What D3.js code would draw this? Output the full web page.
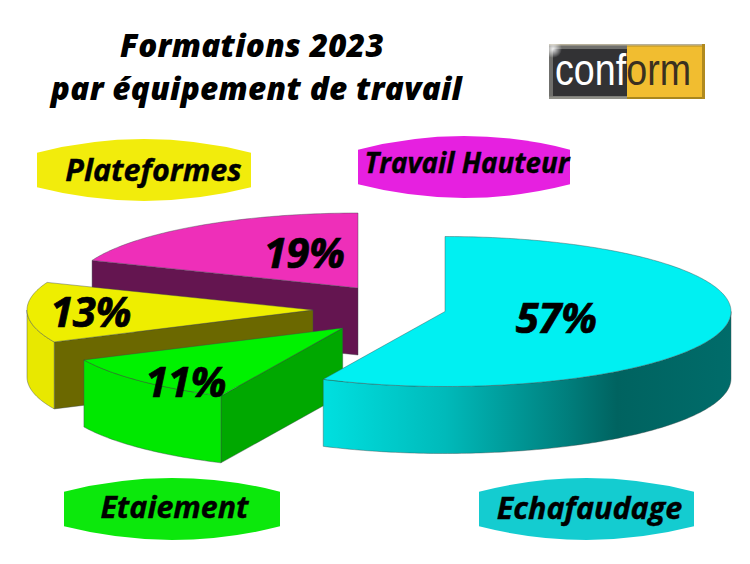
<!DOCTYPE html>
<html><head><meta charset="utf-8">
<script src="https://cdn.jsdelivr.net/npm/d3@7"></script>
<style>html,body{margin:0;padding:0;background:#fff}svg{display:block}
text{font-family:"Open Sans",sans-serif;font-weight:700;font-style:italic;fill:#000}</style>
</head><body><svg id="c" width="750" height="564"></svg>
<script>
const categories = ["Echafaudage","Etaiement","Plateformes","Travail Hauteur"];
const values = [57,11,13,19];
const percentLabels = ["57%","11%","13%","19%"];
const titleLines = ["Formations 2023","par équipement de travail"];

const topColors  = ["#00f0f2","#00f200","#eeee00","#ee2fb9"];
const wallColors = ["url(#cy)","#00e800","#e8e800","#641550"];
const faceColors = ["#00c8c8","#00a800","#6b6800","#641550"];
const badgeColors= ["#14ccd0","#0ce80c","#f2ec0c","#e620e0"];

const RX=286, RY=75, DEPTH=67;
const centers=[[445,311.5],[342.7,328],[313,310],[358,288]];
const labelPos=[[556,333],[185.5,397],[90.5,327],[304,268]];
const badgeBox=[[479,478,694,540],[64,478,280,540],[37,139,251,201],[358,136,570,198]];
const badgeText=[[589.5,519],[174.5,518],[153.5,181],[467,173]];
const badgeFont=[30.5,30.4,30.5,27.7];

const svg=d3.select("#c");
const defs=svg.append("defs");
const g=defs.append("linearGradient").attr("id","cy").attr("gradientUnits","userSpaceOnUse")
  .attr("x1",322).attr("x2",732).attr("y1",0).attr("y2",0);
[[0,"#00e0e0"],[0.3,"#00baba"],[0.6,"#007e7c"],[0.72,"#006360"],[1,"#006c6a"]]
  .forEach(s=>g.append("stop").attr("offset",s[0]).attr("stop-color",s[1]));

const arcs=d3.pie().sort(null).startAngle(0).endAngle(2*Math.PI)(values);
const line=d3.line();
const pt=(c,a,dy=0)=>[c[0]+RX*Math.sin(a),c[1]-RY*Math.cos(a)+dy];
const sample=(a0,a1)=>{const n=Math.max(2,Math.ceil((a1-a0)*60));return d3.range(n+1).map(i=>a0+(a1-a0)*i/n);};

const drawOrder=[3,2,1,0];
const stroke={stroke:"#3c4a4a","stroke-width":0.6,"stroke-opacity":0.7};
function style(s){Object.entries(stroke).forEach(([k,v])=>s.attr(k,v));return s;}
drawOrder.forEach(i=>{
  const d=arcs[i],c=centers[i];
  if(i!==0){
    const p=pt(c,d.startAngle);
    style(svg.append("path").attr("fill",faceColors[i])
      .attr("d",line([p,c,[c[0],c[1]+DEPTH],[p[0],p[1]+DEPTH]])+"Z"));
  }
  const a0=Math.max(d.startAngle,Math.PI/2),a1=Math.min(d.endAngle,1.5*Math.PI);
  if(a1>a0){
    const as=sample(a0,a1);
    const pts=as.map(a=>pt(c,a)).concat(as.slice().reverse().map(a=>pt(c,a,DEPTH)));
    style(svg.append("path").attr("fill",wallColors[i]).attr("d",line(pts)+"Z"));
  }
  const topPts=[c].concat(sample(d.startAngle,d.endAngle).map(a=>pt(c,a)));
  style(svg.append("path").attr("fill",topColors[i]).attr("d",line(topPts)+"Z"));
});

percentLabels.forEach((t,i)=>svg.append("text").attr("x",labelPos[i][0]).attr("y",labelPos[i][1])
  .attr("text-anchor","middle").attr("font-size",42).attr("letter-spacing",-0.5)
  .attr("stroke","#000").attr("stroke-width",0.7).text(t));

categories.forEach((t,i)=>{
  const [x0,y0,x1,y1]=badgeBox[i],h=y1-y0,s=h*0.22,m=(x0+x1)/2;
  svg.append("path").attr("fill",badgeColors[i])
   .attr("d",`M${x0},${y0+s} Q${m},${y0-s} ${x1},${y0+s} L${x1},${y1-s} Q${m},${y1+s} ${x0},${y1-s} Z`);
  svg.append("text").attr("x",badgeText[i][0]).attr("y",badgeText[i][1]).attr("text-anchor","middle")
    .attr("font-size",badgeFont[i]).attr("stroke","#000").attr("stroke-width",0.4).text(t);
});

titleLines.forEach((t,i)=>svg.append("text").attr("x",i?256.5:252).attr("y",i?100:56.5)
  .attr("text-anchor","middle").attr("font-size",31.5).attr("letter-spacing",0.3)
  .style("font-weight",800).text(t));

// logo
const L=svg.append("g");
const hl=defs.append("radialGradient").attr("id","hl");
hl.append("stop").attr("offset",0).attr("stop-color","#fff").attr("stop-opacity",0.9);
hl.append("stop").attr("offset",1).attr("stop-color","#fff").attr("stop-opacity",0);
const rect=(x,y,w,h,f)=>L.append("rect").attr("x",x).attr("y",y).attr("width",w).attr("height",h).attr("fill",f);
rect(549,44,78,55,"#6f6f6c");
rect(627,44,78,55,"#d2a52a");
rect(549,44,156,1.5,"#b7b09a");
rect(553,49,74,47,"#323234");
rect(627,47,75,50,"#f1bd30");
rect(549,96.5,78,2.5,"#8f8f88");
rect(627,97,78,2,"#a8861c");
rect(702,44,3,55,"#b18a1e");
L.append("circle").attr("cx",553).attr("cy",49).attr("r",9).attr("fill","url(#hl)");
const lt=L.append("text").attr("transform","translate(555,85) scale(0.837,1)").attr("font-size",45)
 .style("font-family","'Liberation Sans',sans-serif").style("font-weight",400).style("font-style","normal");
lt.append("tspan").style("fill","#fff").text("conf");
lt.append("tspan").style("fill","#3a3020").text("orm");
</script></body></html>
